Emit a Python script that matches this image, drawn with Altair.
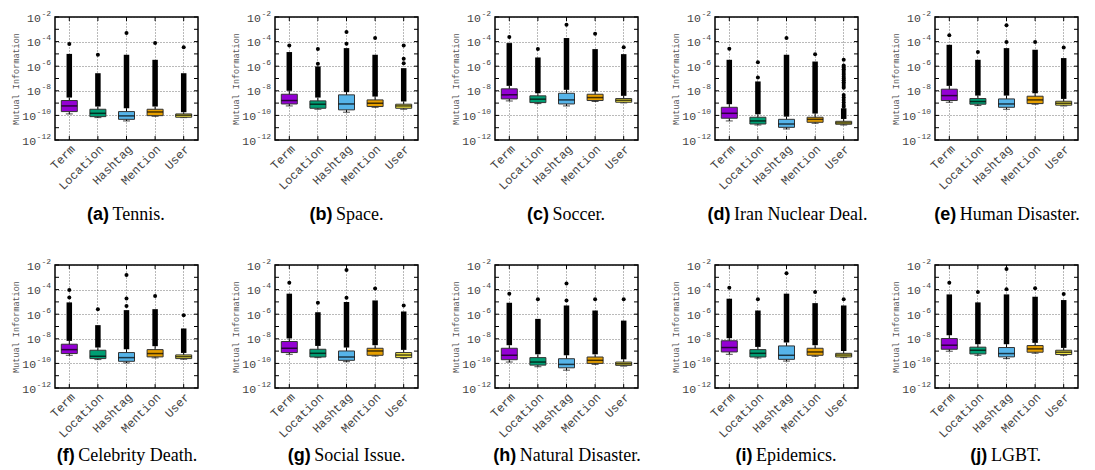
import altair as alt
import pandas as pd

CATEGORIES = ["Term", "Location", "Hashtag", "Mention", "User"]
COLORS = ["#9400d3", "#009e73", "#56b4e9", "#e69f00", "#f0e442"]
LETTERS = ["(a)", "(b)", "(c)", "(d)", "(e)", "(f)", "(g)", "(h)", "(i)", "(j)"]
NAMES = ["Tennis.", "Space.", "Soccer.", "Iran Nuclear Deal.", "Human Disaster.",
         "Celebrity Death.", "Social Issue.", "Natural Disaster.", "Epidemics.", "LGBT."]

# All values are log10(mutual information); per panel: [Term, Location, Hashtag, Mention, User]
WHISKER_LO = [
    [-9.88, -10.18, -10.45, -10.07, -10.18],
    [-9.23, -9.50, -9.74, -9.34, -9.50],
    [-8.82, -9.04, -9.23, -8.87, -8.98],
    [-10.45, -10.78, -11.10, -10.64, -10.78],
    [-8.93, -9.20, -9.50, -9.09, -9.23],
    [-9.34, -9.69, -9.96, -9.55, -9.66],
    [-9.26, -9.53, -9.86, -9.40, -9.59],
    [-9.89, -10.27, -10.55, -10.08, -10.22],
    [-9.26, -9.56, -9.81, -9.42, -9.53],
    [-9.01, -9.34, -9.61, -9.17, -9.34],
]
Q1 = [
    [-9.69, -10.10, -10.32, -10.02, -10.15],
    [-9.07, -9.42, -9.55, -9.28, -9.42],
    [-8.66, -8.96, -9.07, -8.79, -8.93],
    [-10.23, -10.70, -10.97, -10.56, -10.72],
    [-8.79, -9.09, -9.34, -9.04, -9.17],
    [-9.20, -9.61, -9.83, -9.47, -9.61],
    [-9.12, -9.48, -9.75, -9.34, -9.53],
    [-9.70, -10.14, -10.36, -10.00, -10.16],
    [-9.07, -9.48, -9.67, -9.34, -9.48],
    [-8.85, -9.23, -9.47, -9.09, -9.28],
]
MEDIAN = [
    [-9.23, -9.83, -10.04, -9.72, -9.99],
    [-8.79, -9.09, -9.07, -9.01, -9.23],
    [-8.33, -8.68, -8.74, -8.55, -8.77],
    [-9.83, -10.45, -10.70, -10.32, -10.61],
    [-8.39, -8.87, -9.07, -8.74, -9.01],
    [-8.88, -9.42, -9.53, -9.20, -9.45],
    [-8.77, -9.18, -9.48, -8.99, -9.32],
    [-9.34, -9.89, -10.08, -9.75, -10.03],
    [-8.71, -9.18, -9.34, -9.07, -9.32],
    [-8.52, -8.93, -9.20, -8.82, -9.09],
]
Q3 = [
    [-8.79, -9.50, -9.69, -9.50, -9.88],
    [-8.28, -8.82, -8.33, -8.74, -9.09],
    [-7.84, -8.41, -8.20, -8.28, -8.63],
    [-9.34, -10.15, -10.32, -10.15, -10.48],
    [-7.87, -8.63, -8.66, -8.44, -8.85],
    [-8.44, -8.93, -9.12, -8.88, -9.31],
    [-8.22, -8.85, -8.99, -8.77, -9.12],
    [-8.77, -9.53, -9.62, -9.48, -9.89],
    [-8.16, -8.88, -8.58, -8.77, -9.18],
    [-7.98, -8.68, -8.71, -8.55, -8.93],
]
WHISKER_HI = [
    [-8.55, -9.28, -9.42, -9.28, -9.74],
    [-8.00, -8.55, -8.11, -8.47, -8.87],
    [-7.60, -8.20, -7.92, -8.06, -8.41],
    [-9.09, -9.91, -10.10, -9.85, -10.29],
    [-7.60, -8.39, -8.39, -8.20, -8.66],
    [-8.17, -8.71, -8.85, -8.60, -9.15],
    [-7.97, -8.58, -8.71, -8.52, -8.90],
    [-8.52, -9.26, -9.34, -9.26, -9.67],
    [-7.95, -8.66, -8.30, -8.52, -8.99],
    [-7.71, -8.44, -8.44, -8.33, -8.74],
]
DENSE_MAX = [
    [-5.00, -6.57, -5.07, -5.48, -6.57],
    [-4.85, -6.02, -4.53, -5.07, -6.16],
    [-4.12, -5.29, -3.71, -4.61, -5.02],
    [-5.48, -7.24, -5.07, -5.62, -9.42],
    [-4.26, -5.48, -4.53, -4.66, -5.34],
    [-5.04, -6.89, -5.67, -5.59, -7.16],
    [-4.33, -5.84, -5.01, -4.88, -5.78],
    [-5.07, -6.38, -5.29, -5.70, -6.52],
    [-4.74, -5.70, -4.33, -5.10, -5.29],
    [-4.39, -5.04, -4.39, -4.58, -4.85],
]
OUTLIERS = [
    [[-4.20], [-5.07], [-3.30], [-4.12], [-4.45]],
    [[-4.31], [-4.61, -5.80], [-3.22, -4.17], [-3.71], [-4.31, -5.40, -5.75]],
    [[-3.63], [-4.61], [-2.63], [-3.36], [-4.45]],
    [[-4.58], [-5.67, -6.92], [-3.71], [-5.02],
     [-5.48, -5.95, -6.10, -6.25, -6.40, -6.55, -6.70, -6.85, -7.00, -7.15, -7.30,
      -7.45, -7.60, -7.75, -8.35, -8.55, -8.75, -8.95, -9.15, -9.30]],
    [[-3.49], [-4.85], [-2.68, -4.04], [-4.04], [-4.47]],
    [[-4.04, -4.64], [-5.59], [-2.82, -4.72, -5.34], [-4.53], [-6.08]],
    [[-3.45], [-5.07], [-2.41, -4.66], [-3.92], [-5.29]],
    [[-4.33], [-4.79], [-3.51, -4.88], [-4.79], [-4.79]],
    [[-3.84], [-4.79], [-2.68], [-4.19], [-4.79]],
    [[-3.44], [-4.20], [-2.33, -3.98], [-3.90], [-4.36]],
]
TICK_EXPONENTS = [-12, -10, -8, -6, -4, -2]
DECADES = list(range(-12, -1))

W, H = 143, 123
MONO = "Liberation Mono, DejaVu Sans Mono"
CAP_SIZE = 18
CAP_Y = [198, 191]
BASE_SIZE = 11.5
EXP_SIZE = 8

SERIF_W = {"a": .444, "b": .5, "c": .444, "d": .5, "e": .444, "f": .333, "g": .5, "h": .5,
           "i": .278, "j": .278, "k": .5, "l": .278, "m": .778, "n": .5, "o": .5, "p": .5,
           "q": .5, "r": .333, "s": .389, "t": .278, "u": .5, "v": .5, "w": .722, "x": .5,
           "y": .5, "z": .444, " ": .25, ".": .25, "I": .333, "T": .611, "S": .556}
BOLD_W = {"(": .333, ")": .333, "a": .556, "b": .611, "c": .556, "d": .611, "e": .556,
          "f": .333, "g": .611, "h": .611, "i": .278, "j": .278, " ": .2}


def text_w(s, table, default):
    return sum(table.get(ch, default) for ch in s) * CAP_SIZE


yscale = alt.Scale(type="log", domain=[10.0 ** -12, 10.0 ** -2], nice=False)
yaxis = alt.Axis(values=[10.0 ** e for e in TICK_EXPONENTS], labels=False,
                 title="Mutual Information", titleFont=MONO, titleFontSize=8.5,
                 titleFontWeight="normal", titleColor="#555", titlePadding=35,
                 ticks=False, domain=False, grid=True, gridDash=[1, 2], gridColor="#333",
                 gridWidth=0.8, gridOpacity=0.85)
xscale = alt.Scale(domain=CATEGORIES, paddingInner=0, paddingOuter=0)
xaxis = alt.Axis(title=None, labelAngle=315, labelFont=MONO, labelFontSize=12,
                 labelColor="#444", labelPadding=3, ticks=False, domain=False, grid=True,
                 gridDash=[1, 2], gridColor="#333", gridWidth=0.8, gridOpacity=0.85,
                 bandPosition=0.5)


def X():
    return alt.X("cat:N", scale=xscale, axis=xaxis, sort=CATEGORIES)


def Y(f):
    return alt.Y(f, type="quantitative", scale=yscale, axis=yaxis)


def tick_label_layers():
    layers = []
    df = pd.DataFrame({"tv": [10.0 ** e for e in TICK_EXPONENTS],
                       "ex": [str(e) for e in TICK_EXPONENTS]})
    layers.append(alt.Chart(df).mark_text(font=MONO, fontSize=EXP_SIZE, color="#444",
                                          align="right", baseline="middle", dx=-4, dy=-3.5).encode(
        x=alt.value(0), y=Y("tv"), text="ex:N"))
    for n in (2, 3):
        sub = df[df["ex"].str.len() == n]
        layers.append(alt.Chart(sub).mark_text(
            font=MONO, fontSize=BASE_SIZE, color="#444", align="right", baseline="middle",
            dx=-4 - n * 0.6 * EXP_SIZE - 0.5, dy=1.5).encode(
            x=alt.value(0), y=Y("tv"), text=alt.value("10")))
    return layers


def panel(i, row):
    box = pd.DataFrame([
        dict(cat=c, lo=10 ** WHISKER_LO[i][k], q1=10 ** Q1[i][k], med=10 ** MEDIAN[i][k],
             q3=10 ** Q3[i][k], hi=10 ** WHISKER_HI[i][k], dmax=10 ** DENSE_MAX[i][k])
        for k, c in enumerate(CATEGORIES)])
    out = pd.DataFrame([dict(cat=c, v=10 ** e) for k, c in enumerate(CATEGORIES)
                        for e in OUTLIERS[i][k]])
    dec = pd.DataFrame({"dv": [10.0 ** e for e in DECADES]})

    base = alt.Chart(box)
    whisk = base.mark_rule(color="black", strokeWidth=1).encode(x=X(), y=Y("lo"), y2="hi")
    dense = base.mark_rule(color="black", strokeWidth=5.5).encode(x=X(), y=Y("hi"), y2="dmax")
    cap = base.mark_tick(color="black", size=7, thickness=1).encode(x=X(), y=Y("lo"))
    bar = base.mark_bar(size=16, stroke="#333", strokeWidth=1).encode(
        x=X(), y=Y("q1"), y2="q3",
        color=alt.Color("cat:N", scale=alt.Scale(domain=CATEGORIES, range=COLORS), legend=None))
    med = base.mark_tick(color="black", size=16, thickness=1.5).encode(x=X(), y=Y("med"))
    pts = alt.Chart(out).mark_circle(color="black", size=16, opacity=1).encode(x=X(), y=Y("v"))

    dticks_l = alt.Chart(dec).mark_rule(color="black", strokeWidth=1).encode(
        x=alt.value(0), x2=alt.value(4), y=Y("dv"))
    dticks_r = alt.Chart(dec).mark_rule(color="black", strokeWidth=1).encode(
        x=alt.value(W - 4), x2=alt.value(W), y=Y("dv"))
    cticks_t = base.mark_rule(color="black", strokeWidth=1).encode(
        x=X(), y=alt.value(0), y2=alt.value(4))
    cticks_b = base.mark_rule(color="black", strokeWidth=1).encode(
        x=X(), y=alt.value(H - 4), y2=alt.value(H))

    wl = text_w(LETTERS[i] + " ", BOLD_W, .6)
    wn = text_w(NAMES[i], SERIF_W, .67)
    left = W / 2 - (wl + wn) / 2
    capdf = pd.DataFrame({"letter": [LETTERS[i]], "name": [NAMES[i]]})
    c1 = alt.Chart(capdf).mark_text(font="Liberation Sans", fontWeight="bold", fontSize=CAP_SIZE,
                                    align="left", baseline="middle", color="black").encode(
        x=alt.value(left), y=alt.value(CAP_Y[row]), text="letter:N")
    c2 = alt.Chart(capdf).mark_text(font="Liberation Serif", fontSize=CAP_SIZE,
                                    align="left", baseline="middle", color="black").encode(
        x=alt.value(left + wl), y=alt.value(CAP_Y[row]), text="name:N")

    return alt.layer(whisk, dense, cap, bar, med, pts, dticks_l, dticks_r, cticks_t, cticks_b,
                     *tick_label_layers(), c1, c2).properties(width=W, height=H)


rows = [alt.hconcat(*[panel(r * 5 + j, r) for j in range(5)], spacing=77, bounds="flush")
        for r in range(2)]
chart = alt.vconcat(*rows, spacing=248, bounds="flush").configure_view(
    stroke="black", strokeWidth=1.5).properties(
    padding={"left": 2, "top": 0, "right": 0, "bottom": 0})

chart.save("out.html", embed_options={"renderer": "svg", "actions": False})
